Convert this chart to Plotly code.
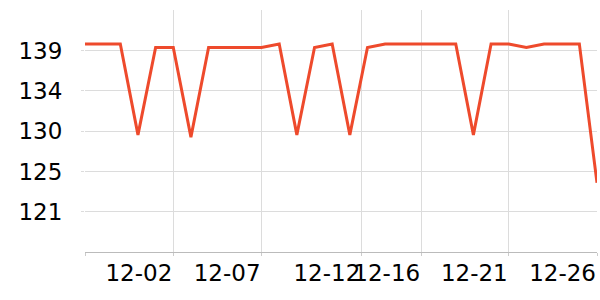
import plotly.graph_objects as go

dates = [
    "2023-11-27", "2023-11-28", "2023-11-29", "2023-11-30", "2023-12-01",
    "2023-12-02", "2023-12-03", "2023-12-04", "2023-12-05", "2023-12-06",
    "2023-12-07", "2023-12-08", "2023-12-09", "2023-12-10", "2023-12-11",
    "2023-12-12", "2023-12-13", "2023-12-14", "2023-12-15", "2023-12-16",
    "2023-12-17", "2023-12-18", "2023-12-19", "2023-12-20", "2023-12-21",
    "2023-12-22", "2023-12-23", "2023-12-24", "2023-12-25", "2023-12-26",
]
values = [
    139.55, 139.55, 139.55, 129.5, 139.15,
    139.15, 129.25, 139.15, 139.15, 139.15,
    139.15, 139.55, 129.5, 139.15, 139.55,
    129.5, 139.15, 139.55, 139.55, 139.55,
    139.55, 139.55, 129.5, 139.55, 139.55,
    139.15, 139.55, 139.55, 139.55, 124.2,
]

x_tickvals = ["2023-11-27", "2023-12-02", "2023-12-07", "2023-12-12 15:36",
              "2023-12-16 01:00", "2023-12-21", "2023-12-26"]
x_ticktext = ["", "12-02", "12-07", "12-12", "12-16", "12-21", "12-26"]

y_tickvals = [121.0, 125.45, 129.9, 134.35, 138.8]
y_ticktext = ["121", "125", "130", "134", "139"]

fig = go.Figure()
fig.add_trace(go.Scatter(
    x=dates, y=values, mode="lines",
    line=dict(color="#ee4a2c", width=3),
    hoverinfo="skip",
))

font = dict(family="DejaVu Sans", size=23, color="#000000")
fig.update_layout(
    width=600, height=300,
    margin=dict(l=85, r=3, t=10, b=48),
    paper_bgcolor="white", plot_bgcolor="white",
    showlegend=False,
    font=font,
)
fig.update_xaxes(
    type="date",
    range=["2023-11-27", "2023-12-26"],
    tickmode="array", tickvals=x_tickvals, ticktext=x_ticktext,
    ticklabelposition="outside left",
    tickangle=0,
    showgrid=True, gridcolor="#dcdcdc", gridwidth=1,
    showline=True, linecolor="#bbbbbb", linewidth=1,
    ticks="outside", ticklen=3, tickcolor="#cccccc",
    tickfont=font, zeroline=False,
)
fig.update_yaxes(
    range=[116.55, 143.3],
    tickmode="array", tickvals=y_tickvals, ticktext=y_ticktext,
    showgrid=True, gridcolor="#dcdcdc", gridwidth=1,
    showline=False,
    ticks="outside", ticklen=3, tickcolor="#dcdcdc",
    ticklabelstandoff=14,
    tickfont=font, zeroline=False,
)

fig.write_html("out.html")
